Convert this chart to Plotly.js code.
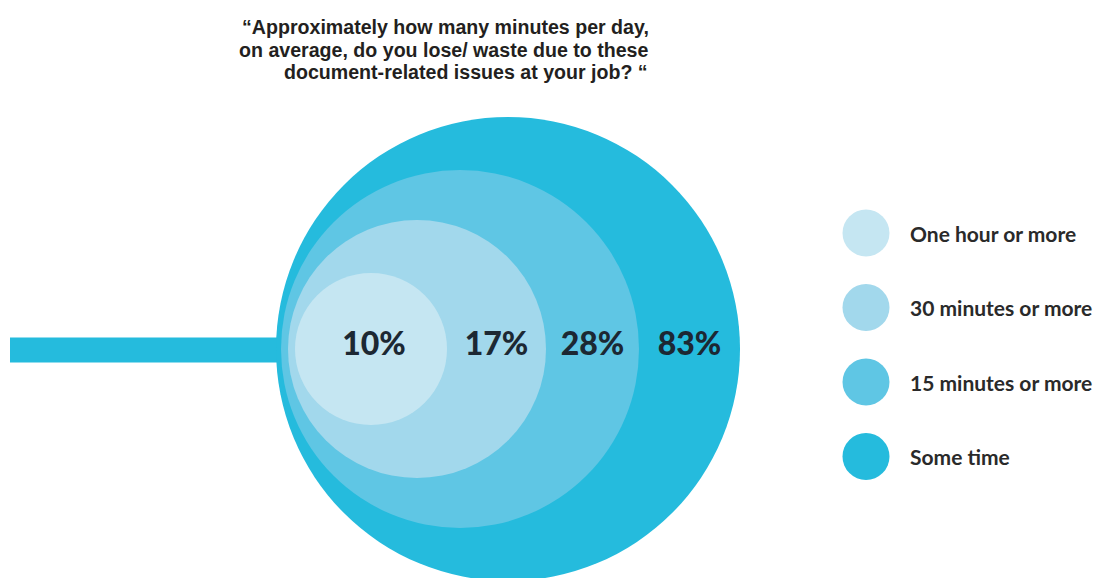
<!DOCTYPE html>
<html>
<head>
<meta charset="utf-8">
<script src="https://cdn.plot.ly/plotly-3.0.1.min.js"></script>
<style>html,body{margin:0;padding:0;background:#fff;}#chart{width:1099px;height:578px;}</style>
</head>
<body>
<div id="chart"></div>
<script>
// ---- data ----
const categories = ["One hour or more", "30 minutes or more", "15 minutes or more", "Some time"];
const values = [10, 17, 28, 83];
const valueLabels = values.map(v => v + "%");
const titleLines = [
  "\u201CApproximately how many minutes per day,",
  "on average, do you lose/ waste due to these",
  "document-related issues at your job? \u201C"
];

// ---- styling / geometry (not data) ----
const colors = ["#c5e6f2", "#a2d8ec", "#5fc6e4", "#25bbdd"];
const radii = [76, 129, 179, 232];      // illustrative circle radii in px
const leftEdges = [295, 288, 281, 276];  // left edge of each circle
const centerY = 349;
const barStart = 10, barHalf = 12.5;
const legendX = 866, legendY0 = 233, legendStep = 74.5, legendSize = 47;
const textColor = "#1c2833";
const fontFam = "Lato, 'Open Sans', sans-serif";
const titleFam = "'Liberation Sans', Arial, sans-serif";

const shapes = [];
// left bar
shapes.push({type:"rect", xref:"x", yref:"y", x0:barStart, x1:leftEdges[3]+2, y0:centerY-barHalf+1, y1:centerY+barHalf+1,
  fillcolor:colors[3], line:{width:0}, layer:"below"});
// circles, largest first
for (let i = categories.length - 1; i >= 0; i--) {
  shapes.push({type:"circle", xref:"x", yref:"y",
    x0:leftEdges[i], x1:leftEdges[i] + 2*radii[i],
    y0:centerY - radii[i], y1:centerY + radii[i],
    fillcolor:colors[i], line:{width:0}, layer:"below"});
}

// label positions: centre of inner circle, else middle of ring on the right
const rights = leftEdges.map((l, i) => l + 2*radii[i]);
const labelX = values.map((v, i) => i === 0 ? leftEdges[0] + radii[0] + 3 : (rights[i-1] + rights[i]) / 2);

const traces = [
  {type:"scatter", mode:"text", x:labelX, y:values.map(() => centerY - 2), text:valueLabels,
   textfont:{family:fontFam, size:32, color:textColor, weight:900},
   hoverinfo:"skip", showlegend:false},
  {type:"scatter", mode:"markers", x:categories.map(() => legendX),
   y:categories.map((c, i) => legendY0 + i*legendStep),
   marker:{size:legendSize, color:colors, line:{width:0}},
   hoverinfo:"skip", showlegend:false}
];

const annotations = [];
const titleX = [445, 444, 466];
titleLines.forEach((t, i) => annotations.push({
  xref:"x", yref:"y", x:titleX[i], y:27 + i*22.6, text:"<b>" + t + "</b>", showarrow:false,
  xanchor:"center", yanchor:"middle", borderpad:0,
  font:{family:titleFam, size:19.6, color:"#231f20"}
}));
categories.forEach((c, i) => annotations.push({
  xref:"x", yref:"y", x:908, y:legendY0 + i*legendStep, text:"<b>" + c + "</b>", showarrow:false,
  xanchor:"left", yanchor:"middle",
  font:{family:fontFam, size:21, color:"#2a2a2a"}
}));

const layout = {
  width:1099, height:578,
  margin:{l:0, r:0, t:0, b:0, pad:0},
  paper_bgcolor:"#ffffff", plot_bgcolor:"#ffffff",
  xaxis:{range:[0, 1099], visible:false, fixedrange:true},
  yaxis:{range:[578, 0], visible:false, fixedrange:true},
  shapes:shapes, annotations:annotations, showlegend:false
};

Plotly.newPlot("chart", traces, layout, {displayModeBar:false, staticPlot:true});
</script>
</body>
</html>
